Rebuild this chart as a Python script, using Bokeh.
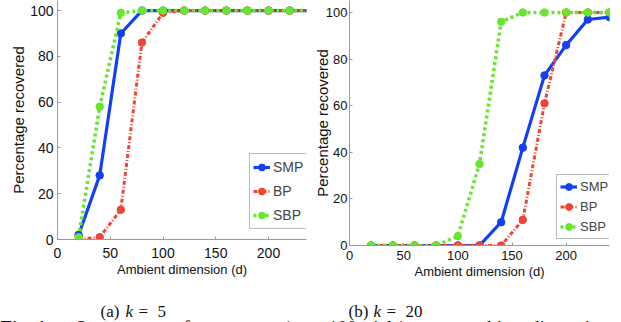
from bokeh.plotting import figure
from bokeh.models import Range1d, Legend, LegendItem, Label, FixedTicker
from bokeh.layouts import row, column
from bokeh.embed import file_html
from bokeh.resources import INLINE

# ---------------- data ----------------
dims = [20, 40, 60, 80, 100, 120, 140, 160, 180, 200, 220, 240]

smp_k5 = [2, 28, 90, 100, 100, 100, 100, 100, 100, 100, 100, 100]
bp_k5 = [0, 1, 13, 86, 99, 100, 100, 100, 100, 100, 100, 100]
sbp_k5 = [1, 58, 99, 100, 100, 100, 100, 100, 100, 100, 100, 100]

smp_k20 = [0, 0, 0, 0, 0, 0, 10, 42, 73, 86, 97, 98]
bp_k20 = [0, 0, 0, 0, 0, 0, 0, 11, 61, 100, 100, 100]
sbp_k20 = [0, 0, 0, 0, 4, 35, 96, 100, 100, 100, 100, 100]

x_ticks = [0, 50, 100, 150, 200]
y_ticks = [0, 20, 40, 60, 80, 100]
series_names = ["SMP", "BP", "SBP"]
x_label = "Ambient dimension (d)"
y_label = "Percentage recovered"
fig_caption_head = "Fig. 1:"
fig_caption_body = "Success rate of recovery"
fig_caption_tail = "(over 100 trials) versus ambient dimension"

# ---------------- style ----------------
COLORS = {"SMP": "#1440f5", "BP": "#ef4536", "SBP": "#66e62e"}
DASH = {"SMP": "solid", "BP": "4 2 1 2", "SBP": "3 3"}
WIDTH = {"SMP": 3.2, "BP": 3.0, "SBP": 3.6}
SANS = "Liberation Sans"
SERIF = "Liberation Serif"
H = 290          # chart strip height
CAP_H = 32       # caption strip height
W = 621


def make_panel(width, bl, br, bb, x_end, y_end, ys, tick_fs, std_x, std_y,
               leg_loc, leg_fs, leg_h, leg_sp, ylab_std):
    p = figure(width=width, height=H, x_range=Range1d(0, x_end),
               y_range=Range1d(0, y_end), output_backend="svg",
               toolbar_location=None, min_border_left=bl,
               min_border_right=br, min_border_top=0, min_border_bottom=bb,
               outline_line_color=None, background_fill_color="white",
               border_fill_color="white")
    p.grid.visible = False
    for ax in (p.xaxis[0], p.yaxis[0]):
        ax.axis_line_color = "#9a9a9a"
        ax.major_tick_line_color = "#9a9a9a"
        ax.major_tick_in = 3
        ax.major_tick_out = 0
        ax.minor_tick_line_color = None
        ax.major_label_text_font = SANS
        ax.major_label_text_font_size = f"{tick_fs}px"
        ax.major_label_text_color = "#111111"
        ax.axis_label_text_font = SANS
        ax.axis_label_text_font_style = "normal"
        ax.axis_label_text_color = "#111111"
    p.xaxis.ticker = FixedTicker(ticks=x_ticks)
    p.yaxis.ticker = FixedTicker(ticks=y_ticks)
    p.xaxis.major_label_standoff = std_x
    p.yaxis.major_label_standoff = std_y
    p.xaxis.axis_label = x_label
    p.xaxis.axis_label_text_font_size = "13px"
    p.xaxis.axis_label_standoff = 1
    p.yaxis.axis_label = y_label
    p.yaxis.axis_label_text_font_size = "15px"
    p.yaxis.axis_label_standoff = ylab_std

    items = []
    for name, vals in zip(series_names, ys):
        ln = p.line(dims, vals, color=COLORS[name], line_width=WIDTH[name],
                    line_dash=DASH[name])
        sc = p.scatter(dims, vals, marker="circle", size=7.5,
                       color=COLORS[name])
        items.append(LegendItem(label=name, renderers=[ln, sc]))
    leg = Legend(items=items, location=leg_loc, margin=0, padding=3,
                 spacing=leg_sp, glyph_width=17, glyph_height=leg_h,
                 label_height=leg_h, label_standoff=3,
                 label_text_font=SANS, label_text_font_size=f"{leg_fs}px",
                 border_line_color="#7a7a7a", border_line_width=1,
                 background_fill_color="white", background_fill_alpha=1)
    p.add_layout(leg)
    return p


left = make_panel(310, 57, 4, 51, 236, 104.4, [smp_k5, bp_k5, sbp_k5],
                  14, 8, 4, (192, 10), 14, 20, 4, 0)
right = make_panel(311, 35, 12, 45, 240, 105.15, [smp_k20, bp_k20, sbp_k20],
                   13, 5, 2, (207, 6), 13, 17, 3, -8)

# ---------------- caption strip (pixel-like coordinates, y downward) ------
cap = figure(width=W, height=CAP_H, x_range=Range1d(0, W),
             y_range=Range1d(CAP_H, 0), output_backend="svg",
             toolbar_location=None, x_axis_type=None, y_axis_type=None,
             min_border=0, outline_line_color=None,
             background_fill_color="white", border_fill_color="white")
cap.grid.visible = False

sub_caps = [
    (100, "(a)", "normal"), (125, "k", "italic"), (138, "=", "normal"), (157, "5", "normal"),
    (348, "(b)", "normal"), (373, "k", "italic"), (386, "=", "normal"), (405, "20", "normal"),
]
for xx, txt, style in sub_caps:
    cap.add_layout(Label(x=xx, y=21, text=txt, text_font=SERIF,
                         text_font_size="17px", text_font_style=style,
                         text_align="left", text_baseline="alphabetic",
                         text_color="#111111"))

for xx, txt, style in [(0, fig_caption_head, "bold"),
                       (75, fig_caption_body, "normal"),
                       (283, fig_caption_tail, "normal")]:
    cap.add_layout(Label(x=xx, y=36.5, text=txt, text_font=SERIF,
                         text_font_size="19px", text_font_style=style,
                         text_align="left", text_baseline="alphabetic",
                         text_color="#111111"))

layout = column(row(column(left), column(right), spacing=0), row(cap),
                spacing=0)
open("out.html", "w").write(file_html(layout, INLINE))
